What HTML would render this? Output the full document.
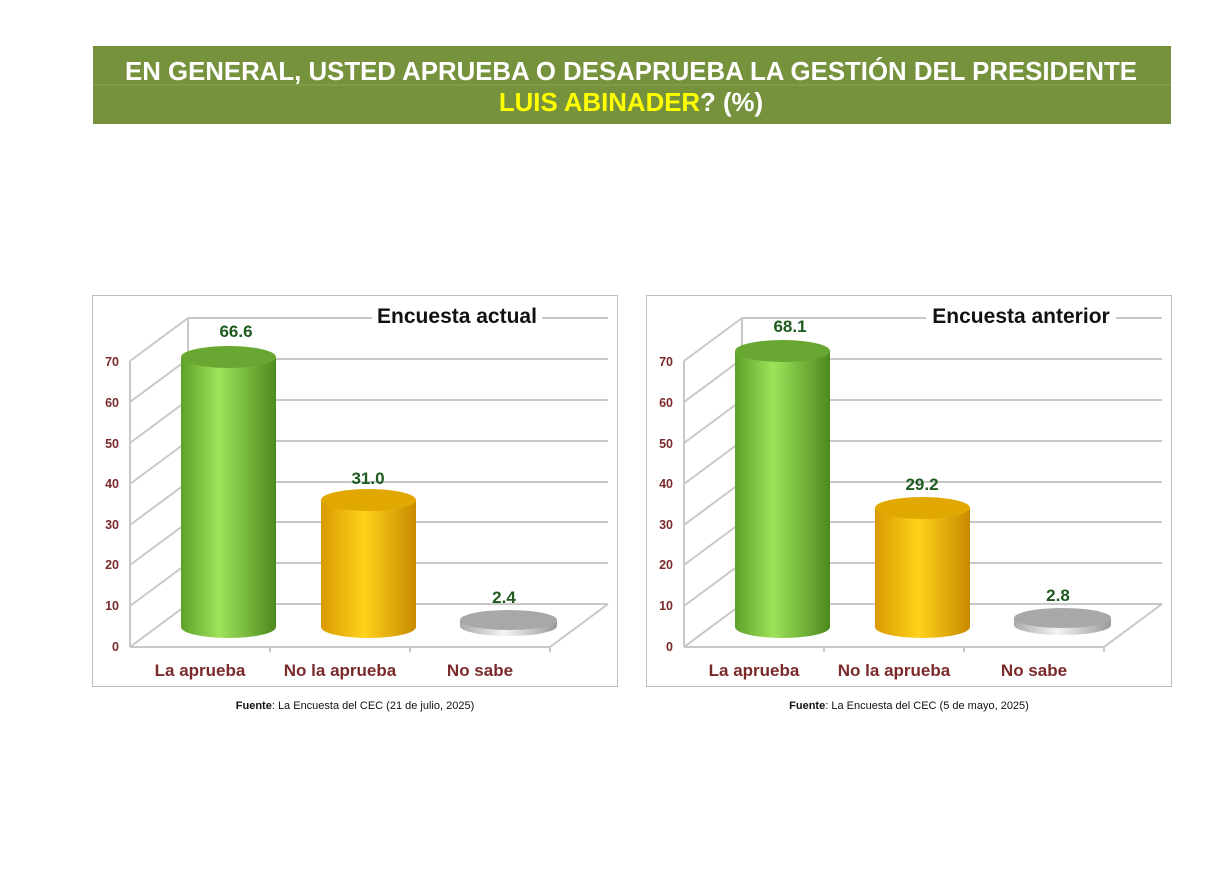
<!DOCTYPE html>
<html><head><meta charset="utf-8"><style>
html,body{margin:0;padding:0;background:#fff;}
svg{display:block;font-family:"Liberation Sans",sans-serif;}
</style></head><body>
<svg width="1226" height="871" viewBox="0 0 1226 871" xmlns="http://www.w3.org/2000/svg">
<defs>
<linearGradient id="g" x1="0" x2="1"><stop offset="0" stop-color="#5fa02a"/><stop offset="0.4" stop-color="#9ee35a"/><stop offset="1" stop-color="#4d8a1e"/></linearGradient>
<linearGradient id="o" x1="0" x2="1"><stop offset="0" stop-color="#d99a00"/><stop offset="0.45" stop-color="#ffd21a"/><stop offset="1" stop-color="#c88a00"/></linearGradient>
<linearGradient id="s" x1="0" x2="1"><stop offset="0" stop-color="#aaa"/><stop offset="0.45" stop-color="#f4f4f4"/><stop offset="1" stop-color="#999"/></linearGradient>
<g id="frame">
<rect x="92.5" y="295.5" width="525" height="391" fill="#fff" stroke="#bdbdbd"/>
<g stroke="#c8c8c8" stroke-width="2" fill="none">
<line x1="188" y1="318" x2="608" y2="318"/><line x1="188" y1="359" x2="608" y2="359"/>
<line x1="188" y1="400" x2="608" y2="400"/><line x1="188" y1="441" x2="608" y2="441"/>
<line x1="188" y1="482" x2="608" y2="482"/><line x1="188" y1="522" x2="608" y2="522"/>
<line x1="188" y1="563" x2="608" y2="563"/><line x1="188" y1="604" x2="608" y2="604"/>
<line x1="130" y1="361" x2="188" y2="318"/><line x1="130" y1="402" x2="188" y2="359"/>
<line x1="130" y1="443" x2="188" y2="400"/><line x1="130" y1="484" x2="188" y2="441"/>
<line x1="130" y1="525" x2="188" y2="482"/><line x1="130" y1="565" x2="188" y2="522"/>
<line x1="130" y1="606" x2="188" y2="563"/><line x1="130" y1="647" x2="188" y2="604"/>
<line x1="188" y1="604" x2="188" y2="318"/><line x1="130" y1="361" x2="130" y2="647"/>
<line x1="130" y1="647" x2="550" y2="647"/><line x1="550" y1="647" x2="608" y2="604"/>
<line x1="270" y1="647" x2="270" y2="652"/><line x1="410" y1="647" x2="410" y2="652"/><line x1="550" y1="647" x2="550" y2="652"/>
</g>
<g fill="#7a2a2a" font-size="12.5" font-weight="bold" text-anchor="end">
<text x="119" y="366">70</text><text x="119" y="407">60</text><text x="119" y="448">50</text><text x="119" y="488">40</text>
<text x="119" y="529">30</text><text x="119" y="569">20</text><text x="119" y="610">10</text><text x="119" y="651">0</text>
</g>
<g fill="#7a2a2a" font-size="17" font-weight="bold" text-anchor="middle">
<text x="200" y="676">La aprueba</text><text x="340" y="676">No la aprueba</text><text x="480" y="676">No sabe</text>
</g>
</g>
</defs>
<rect x="93" y="46" width="1078" height="78" fill="#76923c"/>
<line x1="93" y1="85" x2="1171" y2="85" stroke="#8aa650" stroke-width="1"/>
<text x="631" y="80" text-anchor="middle" fill="#fff" font-size="25.8" font-weight="bold">EN GENERAL, USTED APRUEBA O DESAPRUEBA LA GESTIÓN DEL PRESIDENTE</text>
<text x="631" y="111" text-anchor="middle" fill="#fff" font-size="25.8" font-weight="bold"><tspan fill="#ffff00">LUIS ABINADER</tspan>? (%)</text>

<!-- left chart -->
<use href="#frame"/>
<rect x="372" y="300" width="170" height="30" fill="#fff"/>
<text x="457" y="323" text-anchor="middle" font-size="21" font-weight="bold" fill="#111">Encuesta actual</text>
<path d="M181,357 L181,627 A47.5,11 0 0 0 276,627 L276,357 Z" fill="url(#g)"/>
<ellipse cx="228.5" cy="357" rx="47.5" ry="11" fill="#68a832"/>
<path d="M321,500 L321,627 A47.5,11 0 0 0 416,627 L416,500 Z" fill="url(#o)"/>
<ellipse cx="368.5" cy="500" rx="47.5" ry="11" fill="#e0a800"/>
<path d="M460,620 L460,626 A48.5,10 0 0 0 557,626 L557,620 Z" fill="url(#s)"/>
<ellipse cx="508.5" cy="620" rx="48.5" ry="10" fill="#a8a8a8"/>
<g fill="#1f5a1f" font-size="17" font-weight="bold" text-anchor="middle">
<text x="236" y="337">66.6</text><text x="368" y="484">31.0</text><text x="504" y="603">2.4</text>
</g>
<text x="355" y="709" text-anchor="middle" font-size="11" fill="#111"><tspan font-weight="bold">Fuente</tspan>: La Encuesta del CEC (21 de julio, 2025)</text>

<!-- right chart -->
<g transform="translate(554,0)">
<use href="#frame"/>
<rect x="372" y="300" width="190" height="30" fill="#fff"/>
<text x="467" y="323" text-anchor="middle" font-size="21" font-weight="bold" fill="#111">Encuesta anterior</text>
<path d="M181,351 L181,627 A47.5,11 0 0 0 276,627 L276,351 Z" fill="url(#g)"/>
<ellipse cx="228.5" cy="351" rx="47.5" ry="11" fill="#68a832"/>
<path d="M321,508 L321,627 A47.5,11 0 0 0 416,627 L416,508 Z" fill="url(#o)"/>
<ellipse cx="368.5" cy="508" rx="47.5" ry="11" fill="#e0a800"/>
<path d="M460,618 L460,625 A48.5,10 0 0 0 557,625 L557,618 Z" fill="url(#s)"/>
<ellipse cx="508.5" cy="618" rx="48.5" ry="10" fill="#a8a8a8"/>
<g fill="#1f5a1f" font-size="17" font-weight="bold" text-anchor="middle">
<text x="236" y="332">68.1</text><text x="368" y="490">29.2</text><text x="504" y="601">2.8</text>
</g>
<text x="355" y="709" text-anchor="middle" font-size="11" fill="#111"><tspan font-weight="bold">Fuente</tspan>: La Encuesta del CEC (5 de mayo, 2025)</text>
</g>
</svg>
</body></html>
